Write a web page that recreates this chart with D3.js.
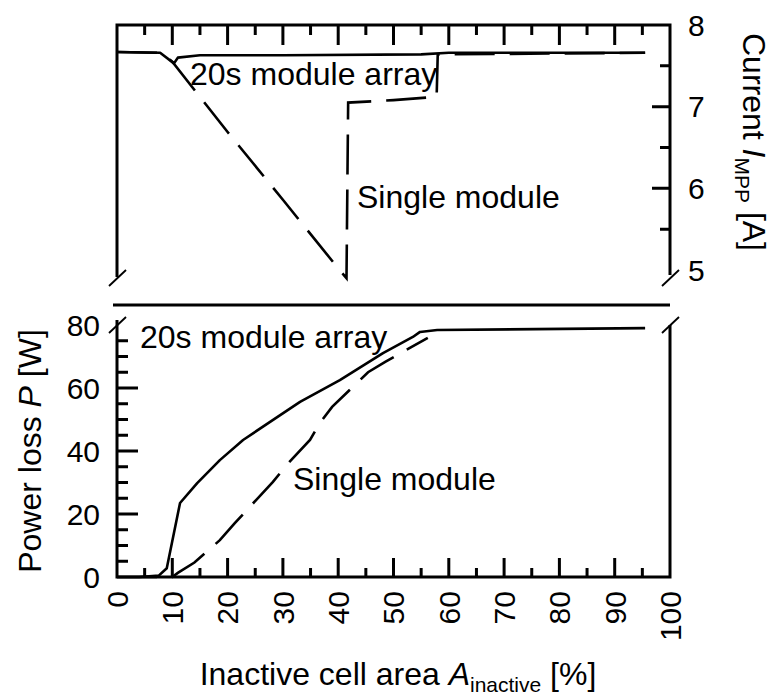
<!DOCTYPE html>
<html><head><meta charset="utf-8">
<script src="https://cdn.jsdelivr.net/npm/d3@7"></script>
<style>
body{margin:0;background:#fff}
text{font-family:"Liberation Sans",Arial,sans-serif;fill:#000}
</style>
</head><body>
<svg id="c" width="772" height="698"></svg>
<script>
// ---- data ----
const xMajor = [0,10,20,30,40,50,60,70,80,90,100];
const xMinor = [5,15,25,35,45,55,65,75,85,95];
const currentTicks = [5,6,7,8];
const currentMinor = [5.5,6.5,7.5];
const powerTicks = [0,20,40,60,80];
const powerMinor = [5,10,15,25,30,35,45,50,55,65,70,75];

// Current I_MPP [A] vs inactive cell area [%]
const arrayCurrent = [[0,7.67],[7.8,7.66],[10.3,7.53],[11,7.6],[15,7.63],[30,7.63],[55,7.64],[60,7.66],[95.5,7.66]];
const singleCurrent = [[0,7.67],[8,7.66],[10,7.55],[20,6.69],[30,5.86],[40,5.02],[41.5,4.9],[41.8,7.05],[50,7.08],[57.8,7.12],[58,7.64],[95.5,7.66]];
// Power loss P [W] vs inactive cell area [%]
const arrayPower = [[0,0],[4,0],[7.6,0.5],[9,2.8],[11.4,23.5],[14.5,29.8],[18.6,37.1],[22.8,43.5],[33.1,55.6],[40.3,62.5],[48.1,71.1],[53.5,76.2],[54.8,77.8],[57.9,78.4],[95.5,79]];
const singlePower = [[0,0],[10,0],[11,1.3],[14,4.6],[18.6,11.7],[21.3,17.1],[28.2,30.2],[30.7,35.6],[34.9,43.5],[36.7,48.9],[38.9,54],[45.4,65],[48.5,68.3],[56.2,75.9]];

// ---- layout ----
const svg = d3.select("#c");
const x = d3.scaleLinear().domain([0,100]).range([117,670]);
const yTop = d3.scaleLinear().domain([5,8]).range([270,25]);
const yBot = d3.scaleLinear().domain([0,80]).range([577,325]);
const AX = 3, LW = 2.6, DASH = "40,15";
const FONT = "Liberation Sans, Arial, sans-serif";

function seg(x1,y1,x2,y2,w){
  svg.append("line").attr("x1",x1).attr("y1",y1).attr("x2",x2).attr("y2",y2)
    .attr("stroke","#000").attr("stroke-width",w||AX);
}

// ---- top panel frame + ticks (one path) ----
const pt = d3.path();
pt.moveTo(x(0), yTop(5)+7); pt.lineTo(x(0), yTop(8)); pt.lineTo(x(100), yTop(8)); pt.lineTo(x(100), yTop(5)+5);
xMajor.slice(1,-1).forEach(d=>{ pt.moveTo(x(d), yTop(8)); pt.lineTo(x(d), yTop(8)+20); });
xMinor.forEach(d=>{ pt.moveTo(x(d), yTop(8)); pt.lineTo(x(d), yTop(8)+10); });
currentTicks.filter(d=>d>5&&d<8).forEach(d=>{ pt.moveTo(x(100), yTop(d)); pt.lineTo(x(100)-18, yTop(d)); });
currentMinor.forEach(d=>{ pt.moveTo(x(100), yTop(d)); pt.lineTo(x(100)-10, yTop(d)); });
svg.append("path").attr("d",pt.toString()).attr("fill","none").attr("stroke","#000").attr("stroke-width",AX);

svg.append("g").selectAll("text").data(currentTicks).join("text")
  .attr("x",x(100)+18).attr("y",d=>yTop(d)).attr("dy","0.36em")
  .attr("font-size",30).attr("font-family",FONT).text(d=>d3.format("d")(d));

// data lines top
const lineTop = d3.line().x(d=>x(d[0])).y(d=>yTop(d[1]));
svg.append("path").datum(arrayCurrent).attr("d",lineTop).attr("fill","none").attr("stroke","#000").attr("stroke-width",LW).attr("stroke-linejoin","round");
svg.append("path").datum(singleCurrent).attr("d",lineTop).attr("fill","none").attr("stroke","#000").attr("stroke-width",LW).attr("stroke-dasharray",DASH);

// ---- separator ----
seg(x(0)-4, 305, x(100), 305);

// ---- bottom panel frame + ticks (one path) ----
const pb = d3.path();
pb.moveTo(x(0), yBot(80)-5); pb.lineTo(x(0), yBot(0)); pb.lineTo(x(100), yBot(0)); pb.lineTo(x(100), yBot(80));
powerTicks.filter(d=>d>0&&d<80).forEach(d=>{ pb.moveTo(x(0), yBot(d)); pb.lineTo(x(0)+21, yBot(d)); });
powerMinor.forEach(d=>{ pb.moveTo(x(0), yBot(d)); pb.lineTo(x(0)+11, yBot(d)); });
xMajor.slice(1,-1).forEach(d=>{ pb.moveTo(x(d), yBot(0)); pb.lineTo(x(d), yBot(0)-19); });
xMinor.forEach(d=>{ pb.moveTo(x(d), yBot(0)); pb.lineTo(x(d), yBot(0)-9); });
svg.append("path").attr("d",pb.toString()).attr("fill","none").attr("stroke","#000").attr("stroke-width",AX);

svg.append("g").selectAll("text").data(powerTicks).join("text")
  .attr("x",x(0)-17).attr("y",d=>yBot(d)).attr("dy","0.36em").attr("text-anchor","end")
  .attr("font-size",30).attr("font-family",FONT).text(d=>d3.format("d")(d));
svg.append("g").selectAll("text").data(xMajor).join("text")
  .attr("transform",d=>`translate(${x(d)},${yBot(0)}) rotate(-90)`)
  .attr("x",-14).attr("y",0).attr("dy","0.36em").attr("text-anchor","end")
  .attr("font-size",30).attr("font-family",FONT).text(d=>d3.format("d")(d));

const lineBot = d3.line().x(d=>x(d[0])).y(d=>yBot(d[1]));
svg.append("path").datum(arrayPower).attr("d",lineBot).attr("fill","none").attr("stroke","#000").attr("stroke-width",LW).attr("stroke-linejoin","round");
svg.append("path").datum(singlePower).attr("d",lineBot).attr("fill","none").attr("stroke","#000").attr("stroke-width",LW).attr("stroke-dasharray",DASH);

// ---- break marks ----
function brk(cx,cy){ seg(cx-8, cy+8, cx+9, cy-8, 1.8); }
brk(x(0),yTop(5)+8);
brk(x(100),yTop(5)+8);
brk(x(0),yBot(80));
brk(x(100),yBot(80));

// ---- annotations ----
svg.append("text").attr("x",190).attr("y",85).attr("font-size",32).text("20s module array");
svg.append("text").attr("x",357).attr("y",208).attr("font-size",32).text("Single module");
svg.append("text").attr("x",140).attr("y",348).attr("font-size",32).text("20s module array");
svg.append("text").attr("x",293).attr("y",490).attr("font-size",32).text("Single module");

// ---- axis titles ----
const lt = svg.append("text").attr("transform",`translate(41,451) rotate(-90)`).attr("text-anchor","middle").attr("font-size",32);
lt.append("tspan").text("Power loss ");
lt.append("tspan").attr("font-style","italic").text("P");
lt.append("tspan").text(" [W]");

const rt = svg.append("text").attr("transform",`translate(743,142) rotate(90)`).attr("text-anchor","middle").attr("font-size",32);
rt.append("tspan").text("Current ");
rt.append("tspan").attr("font-style","italic").text("I");
rt.append("tspan").attr("font-size",21).attr("dy",8).text("MPP");
rt.append("tspan").attr("dy",-8).text(" [A]");

const bt = svg.append("text").attr("x",398).attr("y",685).attr("text-anchor","middle").attr("font-size",32);
bt.append("tspan").text("Inactive cell area ");
bt.append("tspan").attr("font-style","italic").text("A");
bt.append("tspan").attr("font-size",21).attr("dy",7).text("inactive");
bt.append("tspan").attr("dy",-7).text(" [%]");
</script>
</body></html>
